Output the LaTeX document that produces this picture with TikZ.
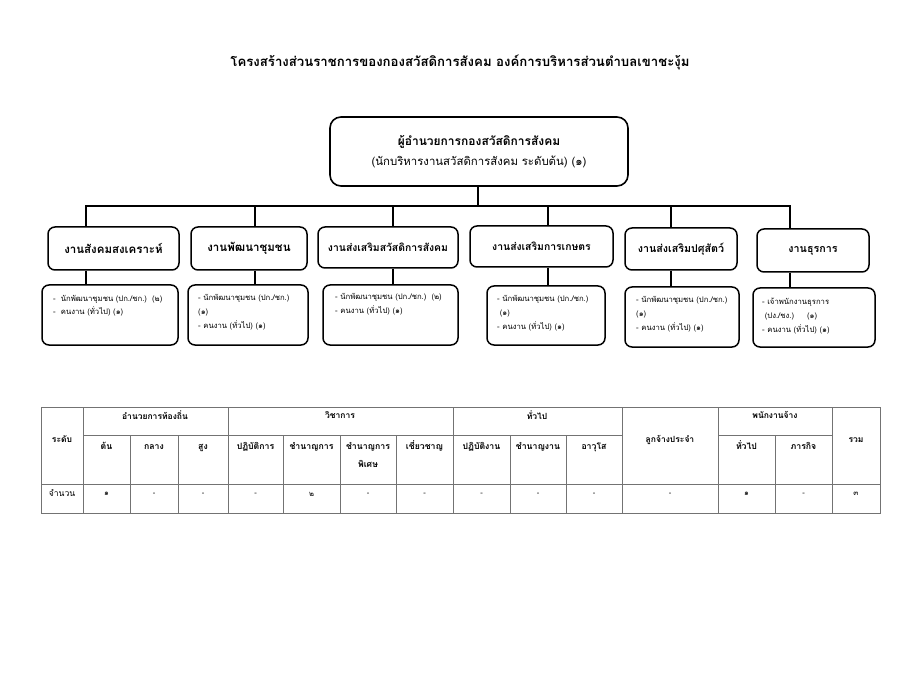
\documentclass[tikz,border=0pt]{standalone}
\usepackage{fontspec}
\setmainfont[Script=Thai]{Loma}
\usetikzlibrary{positioning}

\begin{document}
\begin{tikzpicture}[
    x=1pt, y=-1pt,
    topbox/.style={rectangle, draw, line width=1.6pt, rounded corners=11pt, align=center, minimum width=298pt, minimum height=69pt, inner sep=2pt},
    headbox/.style={rectangle, draw, line width=1.5pt, rounded corners=7pt, align=center, font=\bfseries\fontsize{11.5}{13}\selectfont, inner sep=2pt},
    staffbox/.style={rectangle, draw, line width=1.5pt, rounded corners=7pt, inner sep=0pt},
    stafftext/.style={anchor=north west, align=left, inner sep=0pt, font=\fontsize{7.7}{14}\selectfont},
    link/.style={line width=2pt},
    grid/.style={draw=black!55, line width=0.9pt},
    th/.style={font=\bfseries\fontsize{8.5}{17.5}\selectfont, align=center, inner sep=1pt},
    subth/.style={th, font=\bfseries\fontsize{8.7}{17.5}\selectfont},
    td/.style={font=\fontsize{7.5}{10}\selectfont, inner sep=1pt}
]
\useasboundingbox (0,0) rectangle (900,695);

% title
\node (title) at (460,62) [font=\bfseries\fontsize{13.2}{15}\selectfont] {โครงสร้างส่วนราชการของกองสวัสดิการสังคม องค์การบริหารส่วนตำบลเขาชะงุ้ม};

% head of division
\node (chief) at (479,151.5) [topbox] {{\bfseries\fontsize{12}{20}\selectfont ผู้อำนวยการกองสวัสดิการสังคม}\\[7pt]
  {\fontsize{11.4}{14}\selectfont (นักบริหารงานสวัสดิการสังคม ระดับต้น) (๑)}};

% sections
\node (h1) at (113.5,248.5) [headbox, minimum width=131pt, minimum height=43pt] {งานสังคมสงเคราะห์};
\node (h2) at (249,248.5) [headbox, minimum width=116pt, minimum height=43pt] {งานพัฒนาชุมชน};
\node (h3) at (388,247.5) [headbox, minimum width=140pt, minimum height=41pt, font=\bfseries\fontsize{10.4}{12}\selectfont] {งานส่งเสริมสวัสดิการสังคม};
\node (h4) at (541.5,246.5) [headbox, minimum width=143pt, minimum height=41pt, font=\bfseries\fontsize{10.4}{12}\selectfont] {งานส่งเสริมการเกษตร};
\node (h5) at (681,249) [headbox, minimum width=112pt, minimum height=42pt, font=\bfseries\fontsize{10.7}{12}\selectfont] {งานส่งเสริมปศุสัตว์};
\node (h6) at (813,250.5) [headbox, minimum width=112pt, minimum height=43pt, font=\bfseries\fontsize{10.7}{12}\selectfont] {งานธุรการ};

% staff boxes
\node (s1) at (110,315) [staffbox, minimum width=136pt, minimum height=60pt] {};
\node (s2) at (248,315) [staffbox, minimum width=120pt, minimum height=60pt] {};
\node (s3) at (390.5,315) [staffbox, minimum width=135pt, minimum height=60pt] {};
\node (s4) at (546,315.5) [staffbox, minimum width=118pt, minimum height=59pt] {};
\node (s5) at (682,317) [staffbox, minimum width=114pt, minimum height=60pt] {};
\node (s6) at (814,317.5) [staffbox, minimum width=122pt, minimum height=59pt] {};

\node (t1) at (53,295) [stafftext, font=\fontsize{7.7}{13}\selectfont] {-\ \ นักพัฒนาชุมชน (ปก./ชก.)\ \ (๒)\\-\ \ คนงาน (ทั่วไป) (๑)};
\node (t2) at (198,294) [stafftext] {- นักพัฒนาชุมชน (ปก./ชก.)\\(๑)\\- คนงาน (ทั่วไป) (๑)};
\node (t3) at (335,293) [stafftext] {- นักพัฒนาชุมชน (ปก./ชก.)\ \ (๒)\\- คนงาน (ทั่วไป) (๑)};
\node (t4) at (497,295) [stafftext] {- นักพัฒนาชุมชน (ปก./ชก.)\\\ (๑)\\- คนงาน (ทั่วไป) (๑)};
\node (t5) at (636,296) [stafftext] {- นักพัฒนาชุมชน (ปก./ชก.)\\(๑)\\- คนงาน (ทั่วไป) (๑)};
\node (t6) at (762,298) [stafftext] {- เจ้าพนักงานธุรการ\\\ (ปง./ชง.)\ \ \ \ \ (๑)\\- คนงาน (ทั่วไป) (๑)};

% connectors
\coordinate (j1) at (86,206);
\coordinate (j2) at (255,206);
\coordinate (j3) at (393,206);
\coordinate (j4) at (548,206);
\coordinate (j5) at (671,206);
\coordinate (j6) at (790,206);
\coordinate (jc) at (478,206);

\draw [link] (chief.south -| jc) -- (jc);
\draw [link] (j1 |- h1.north) -- (j1) -- (j6) -- (j6 |- h6.north);
\foreach \i in {2,3,4,5} {
  \draw [link] (j\i) -- (j\i |- h\i.north);
}
\foreach \i in {1,...,6} {
  \draw [link] (j\i |- h\i.south) -- (j\i |- s\i.north);
}

% staffing table
\draw [grid] (41,407) rectangle (880,513);
\draw [grid] (41,484) -- (880,484);
\draw [grid] (83,435) -- (622,435);
\draw [grid] (718,435) -- (832,435);
\foreach \x in {83,228,453,622,718,832} {
  \draw [grid] (\x,407) -- (\x,513);
}
\foreach \x in {130,178,283,340,396,510,566,775} {
  \draw [grid] (\x,435) -- (\x,513);
}

\node (lvl) at (62,439) [th] {ระดับ};
\node (g1) at (155,415) [th] {อำนวยการท้องถิ่น};
\node (g2) at (340,415) [th] {วิชาการ};
\node (g3) at (537,415) [th] {ทั่วไป};
\node (g4) at (670,440) [th] {ลูกจ้างประจำ};
\node (g5) at (775,415) [th] {พนักงานจ้าง};
\node (sum) at (856,440) [th] {รวม};

\foreach \x/\txt [count=\i] in {106.5/ต้น, 154/กลาง, 203/สูง, 255.5/ปฏิบัติการ, 311.5/ชำนาญการ, 424.5/เชี่ยวชาญ, 481.5/ปฏิบัติงาน, 538/ชำนาญงาน, 594/อาวุโส, 746.5/ทั่วไป, 803.5/ภารกิจ} {
  \node (c\i) at (\x,449) [subth, anchor=base] {\txt};
}
\node (cx) at (368,441.5) [subth, anchor=north] {ชำนาญการ\\พิเศษ};

\node (cnt) at (62,493) [td, font=\fontsize{8.6}{10}\selectfont] {จำนวน};
\foreach \x/\v [count=\i] in {106.5/๑, 154/-, 203/-, 255.5/-, 311.5/๒, 368/-, 424.5/-, 481.5/-, 538/-, 594/-, 670/-, 746.5/๑, 803.5/-, 856/๓} {
  \node (v\i) at (\x,494) [td] {\v};
}

\end{tikzpicture}
\end{document}
